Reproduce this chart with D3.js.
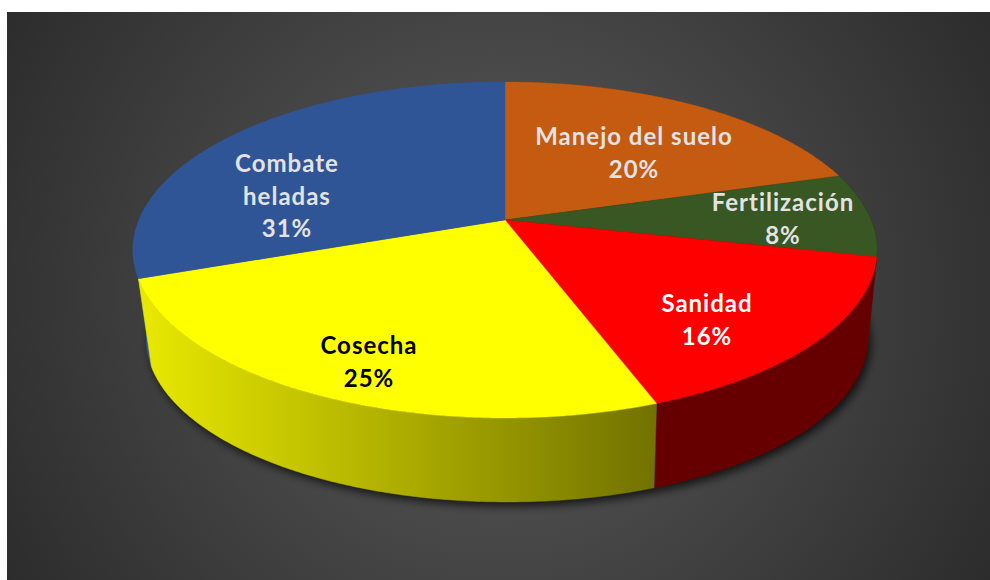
<!DOCTYPE html>
<html>
<head>
<meta charset="utf-8">
<script src="https://cdn.jsdelivr.net/npm/d3@7"></script>
<style>
  html, body { margin: 0; padding: 0; background: #fff; overflow: hidden; }
  svg { display: block; }
  text { font-family: Lato, "Open Sans", sans-serif; font-weight: 700; font-size: 24px; letter-spacing: 1px; text-anchor: middle; }
</style>
</head>
<body>
<svg id="chart" width="990" height="580"></svg>
<script>
  'use strict';

  var categories = ['Manejo del suelo', 'Fertilización', 'Sanidad', 'Cosecha', 'Combate heladas'];
  var values = [20.4, 8.1, 15.9, 25.1, 30.5];
  var percentLabels = ['20%', '8%', '16%', '25%', '31%'];
  var topColors = ['#c55a11', '#385723', '#ff0000', '#ffff00', '#2f5597'];
  var wallColors = ['#763609', '#213414', '#660000', 'url(#yellowWall)', '#2f5597'];
  var textColors = ['#e3e3e3', '#e3e3e3', '#ffffff', '#000000', '#e3e3e3'];

  // label lines, split the way the chart wraps them
  var labelLines = [['Manejo del suelo'], ['Fertilización'], ['Sanidad'], ['Cosecha'], ['Combate', 'heladas']];
  var labelAt = [[634, 137], [783, 203], [707, 304], [369, 346], [287, 164]];
  var lineHeight = 32.5;

  var width = 990;
  var height = 580;
  var apex = {x: 505, y: 220};
  var upReach = 138;    // apex to back of the rim
  var downReach = 198;  // apex to front of the rim
  var halfWidth = 372;
  var tilt = (downReach - upReach) / (downReach + upReach);
  var scaleY = upReach * (1 + tilt);
  var scaleX = halfWidth * Math.sqrt(1 - tilt * tilt);
  var rimCentreY = apex.y + (downReach - upReach) / 2;
  var wallShrink = 0.97;
  var wallShift = {x: 2, y: 89};

  // perspective view of the flat disc
  function project(angle, radius) {
    var u = radius * Math.sin(angle);
    var v = -radius * Math.cos(angle);
    var w = 1 - tilt * v;
    return [apex.x + scaleX * u / w, apex.y + scaleY * v / w];
  }

  function lower(p) {
    return [
      apex.x + wallShift.x + (p[0] - apex.x) * wallShrink,
      rimCentreY + wallShift.y + (p[1] - rimCentreY) * wallShrink
    ];
  }

  function rim(a0, a1) {
    var n = Math.max(2, Math.ceil((a1 - a0) / 0.01));
    return d3.range(n + 1).map(function(i) {
      return project(a0 + (a1 - a0) * i / n, 1);
    });
  }

  function frontness(d) {
    return -Math.cos((d.startAngle + d.endAngle) / 2);
  }

  var svg = d3.select('#chart');
  var defs = svg.append('defs');

  var bg = defs.append('radialGradient')
      .attr('id', 'bg')
      .attr('gradientUnits', 'userSpaceOnUse')
      .attr('cx', 498).attr('cy', 296).attr('r', 640);
  bg.append('stop').attr('offset', 0).attr('stop-color', '#5c5c5c');
  bg.append('stop').attr('offset', 1).attr('stop-color', '#262626');

  var yellowWall = defs.append('linearGradient')
      .attr('id', 'yellowWall')
      .attr('gradientUnits', 'userSpaceOnUse')
      .attr('x1', 140).attr('y1', 0).attr('x2', 660).attr('y2', 0);
  yellowWall.append('stop').attr('offset', 0).attr('stop-color', '#e9e900');
  yellowWall.append('stop').attr('offset', 1).attr('stop-color', '#717100');

  defs.append('filter')
      .attr('id', 'soft')
      .attr('x', '-10%').attr('y', '-10%').attr('width', '120%').attr('height', '120%')
    .append('feGaussianBlur')
      .attr('stdDeviation', 5);

  svg.append('rect')
      .attr('x', 7).attr('y', 12)
      .attr('width', width - 7).attr('height', height - 12)
      .attr('fill', 'url(#bg)');

  var line = d3.line();
  var slices = d3.pie().sort(null).value(function(d) { return d; })(values);

  // shadow under the disc
  svg.append('path')
      .attr('d', line(rim(0, 2 * Math.PI).map(lower)) + 'Z')
      .attr('transform', 'translate(3,4)')
      .attr('fill', '#000')
      .attr('fill-opacity', 0.75)
      .attr('filter', 'url(#soft)');

  // side walls, back ones first so the front ones sit on top
  svg.append('g').selectAll('path')
      .data(slices.slice().sort(function(a, b) { return frontness(a) - frontness(b); }))
      .join('path')
      .attr('d', function(d) {
        var top = rim(d.startAngle, d.endAngle);
        return line(top.concat(top.map(lower).reverse())) + 'Z';
      })
      .attr('fill', function(d) { return wallColors[d.index]; })
      .attr('stroke', function(d) { return wallColors[d.index]; })
      .attr('stroke-width', 0.5);

  // top faces
  svg.append('g').selectAll('path')
      .data(slices)
      .join('path')
      .attr('d', function(d) {
        return line([project(0, 0)].concat(rim(d.startAngle, d.endAngle))) + 'Z';
      })
      .attr('fill', function(d, i) { return topColors[i]; })
      .attr('stroke', function(d, i) { return topColors[i]; })
      .attr('stroke-width', 0.4);

  var labels = svg.append('g').selectAll('text')
      .data(categories)
      .join('text')
      .attr('fill', function(d, i) { return textColors[i]; })
      .attr('x', function(d, i) { return labelAt[i][0]; })
      .attr('y', function(d, i) { return labelAt[i][1] + 8; });

  labels.selectAll('tspan')
      .data(function(d, i) { return labelLines[i].concat(percentLabels[i]); })
      .join('tspan')
      .attr('x', function() { return d3.select(this.parentNode).attr('x'); })
      .attr('dy', function(d, i) { return i === 0 ? 0 : lineHeight; })
      .text(function(d) { return d; });
</script>
</body>
</html>
